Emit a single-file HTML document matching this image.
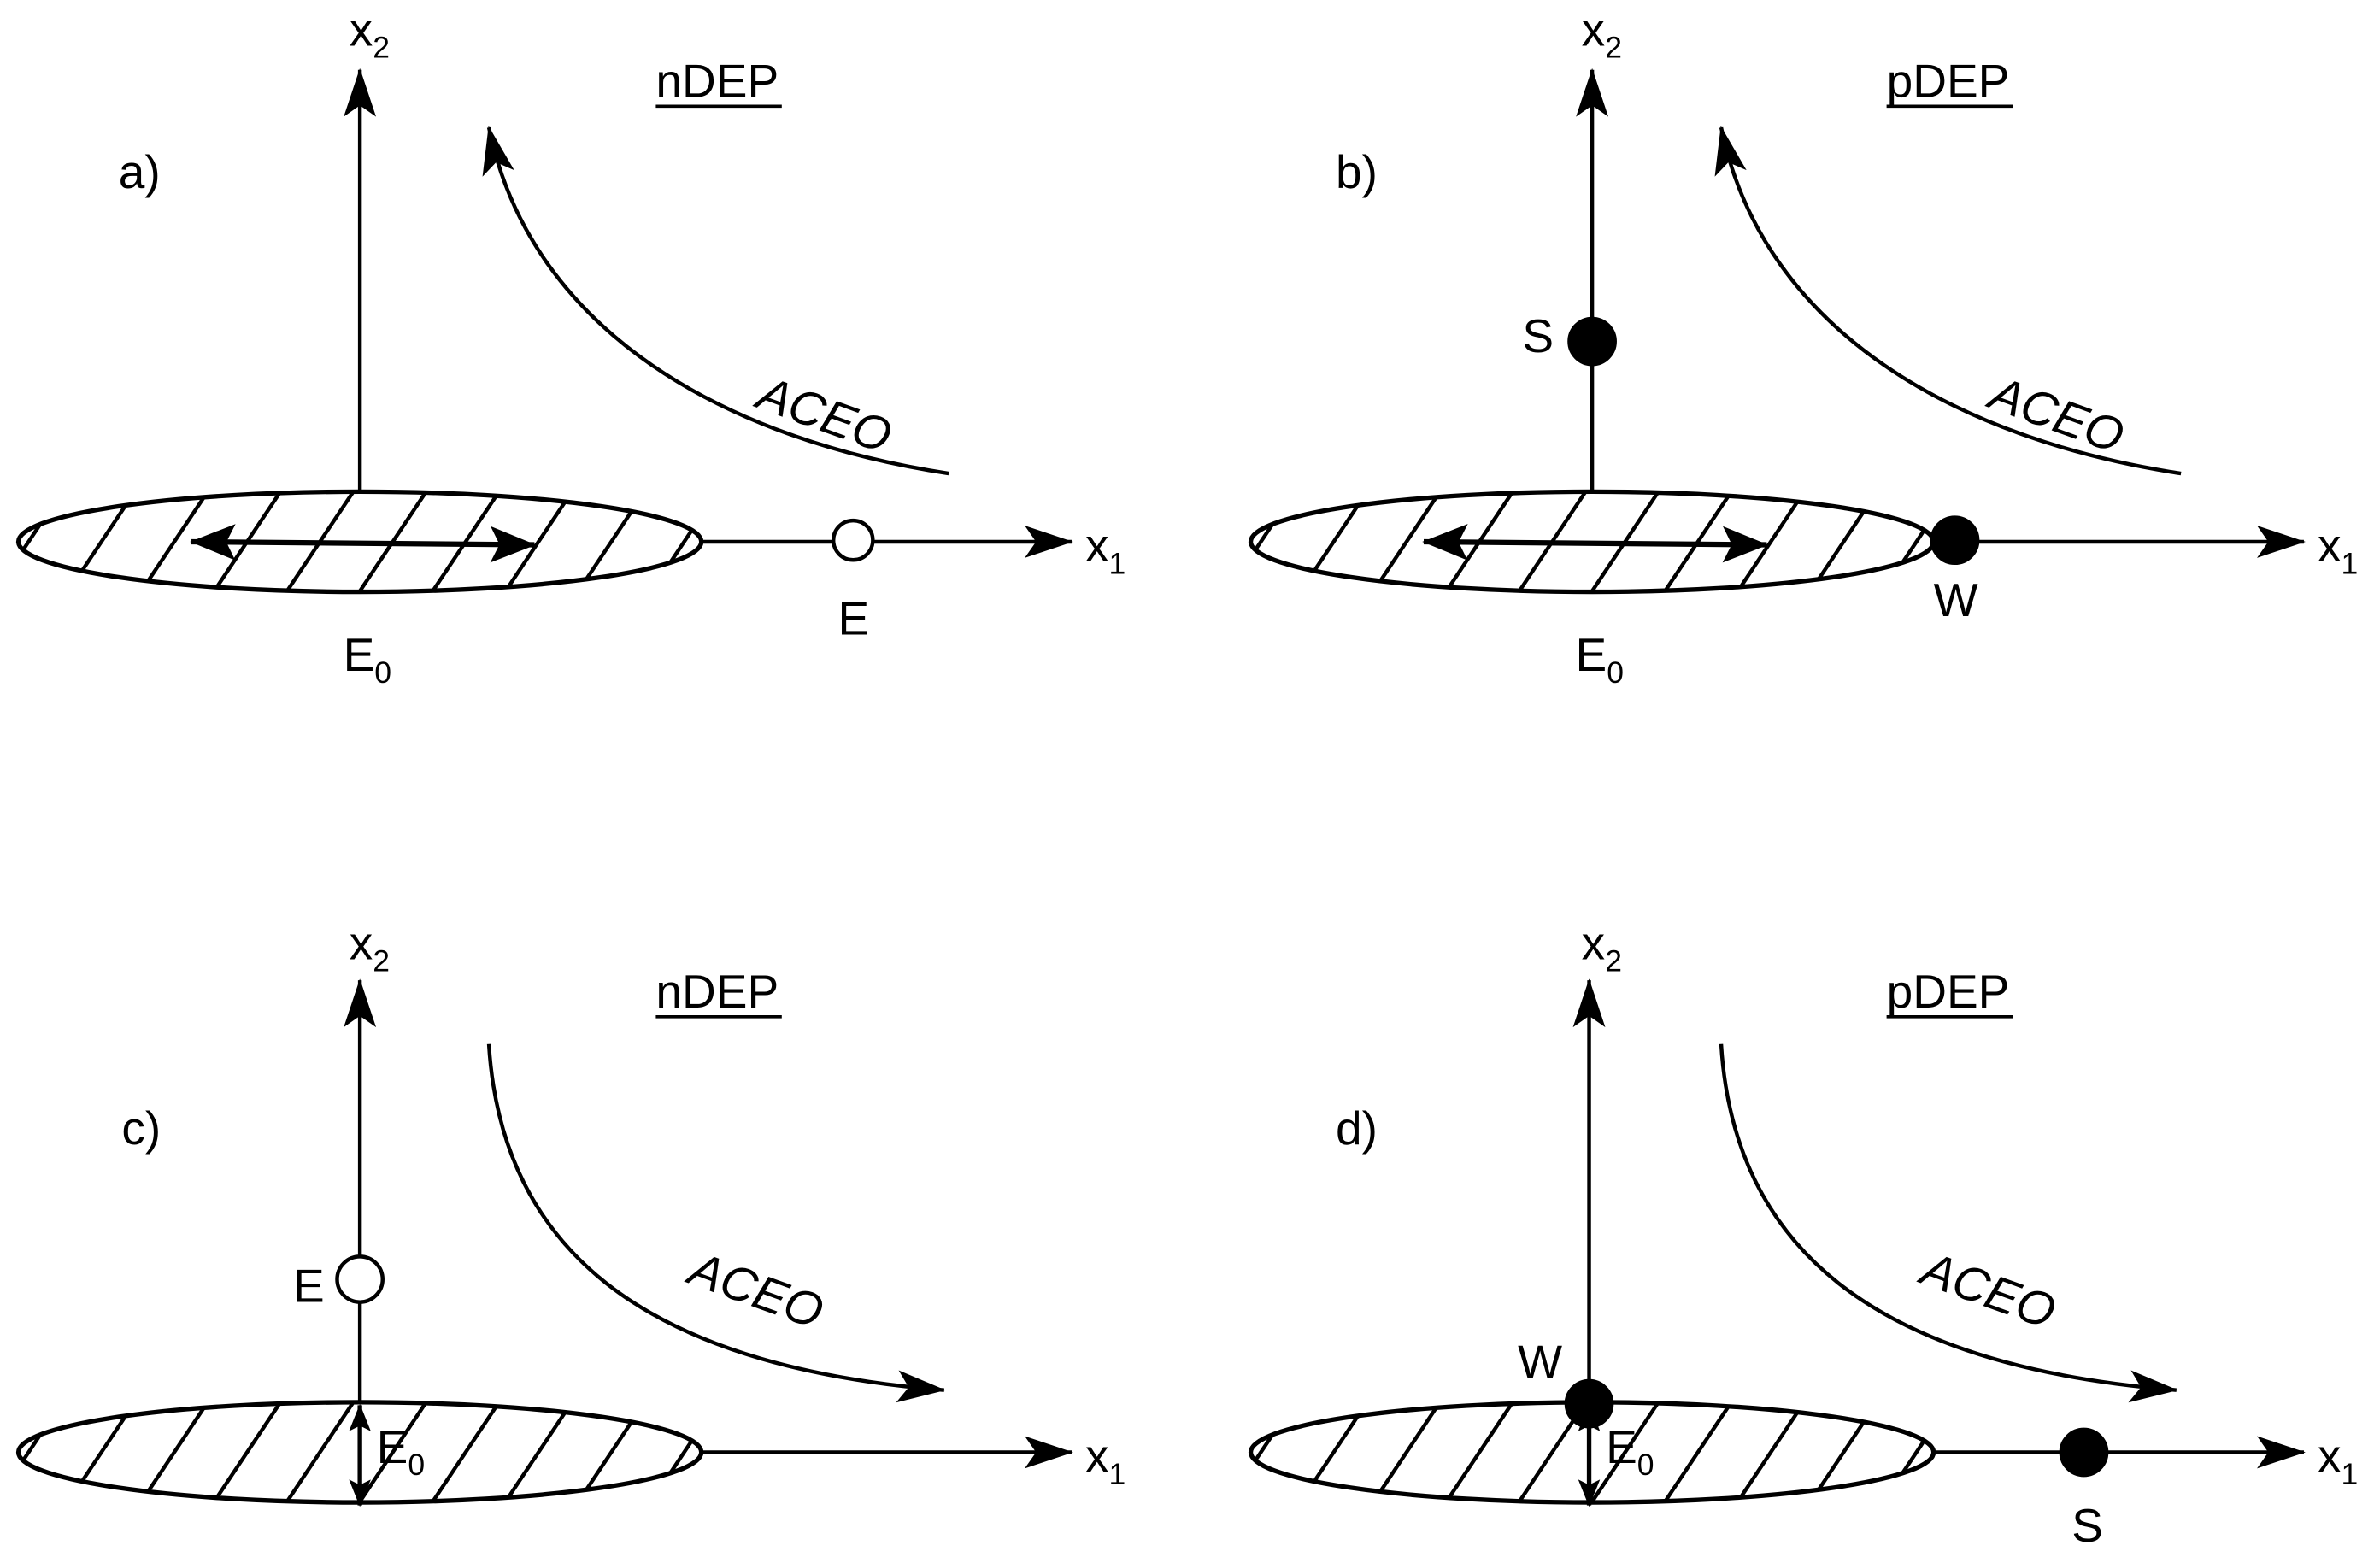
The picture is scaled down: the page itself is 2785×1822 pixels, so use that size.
<!DOCTYPE html>
<html><head><style>html,body{margin:0;padding:0;background:#fff}svg{display:block}</style></head><body>
<svg width="2785" height="1822" viewBox="0 0 1568 1026" xmlns="http://www.w3.org/2000/svg" font-family="Liberation Sans, DejaVu Sans, sans-serif" font-size="31">
<defs>
<marker id="big" viewBox="0 0 30 20" refX="29" refY="10" markerWidth="32" markerHeight="22" orient="auto-start-reverse" markerUnits="userSpaceOnUse"><path d="M0,0 L30,10 L0,20 L7,10 Z" fill="#000"/></marker>
<marker id="dbl" viewBox="0 0 30 24" refX="29" refY="12" markerWidth="30" markerHeight="26" orient="auto-start-reverse" markerUnits="userSpaceOnUse"><path d="M0,0 L30,12 L0,24 L6,12 Z" fill="#000"/></marker>
<marker id="sm" viewBox="0 0 20 16" refX="19" refY="8" markerWidth="18" markerHeight="15" orient="auto-start-reverse" markerUnits="userSpaceOnUse"><path d="M0,0 L20,8 L0,16 L4,8 Z" fill="#000"/></marker>
<clipPath id="ell"><ellipse cx="237" cy="357" rx="225" ry="33"/></clipPath>
<g id="hatch" clip-path="url(#ell)" stroke="#000" stroke-width="2.5">
<path d="M-10,400 L50,310 M38,400 L98,310 M86,400 L146,310 M134,400 L194,310 M182,400 L242,310 M230,400 L290,310 M278,400 L338,310 M326,400 L386,310 M374,400 L434,310 M422,400 L482,310"/>
</g>
<g id="ellg"><use href="#hatch"/><ellipse cx="237" cy="357" rx="225" ry="33" fill="none" stroke="#000" stroke-width="3"/></g>
</defs>
<g stroke="#000" stroke-width="2.5" fill="none">
<use href="#ellg"/>
<line x1="237" y1="324" x2="237" y2="46" marker-end="url(#big)"/>
<line x1="462" y1="357" x2="706" y2="357" marker-end="url(#big)"/>
<line x1="126" y1="357" x2="352" y2="359" marker-start="url(#dbl)" marker-end="url(#dbl)" stroke-width="3.5"/>
<circle cx="562" cy="356" r="13" fill="#fff"/>
<path d="M625,312 C480,290 350,220 322,84" marker-end="url(#big)"/>
<g transform="translate(812,0)">
<use href="#ellg"/>
<line x1="237" y1="324" x2="237" y2="46" marker-end="url(#big)"/>
<line x1="462" y1="357" x2="706" y2="357" marker-end="url(#big)"/>
<line x1="126" y1="357" x2="352" y2="359" marker-start="url(#dbl)" marker-end="url(#dbl)" stroke-width="3.5"/>
<path d="M625,312 C480,290 350,220 322,84" marker-end="url(#big)"/>
</g>
<circle cx="1049" cy="225" r="15" fill="#000"/>
<circle cx="1288" cy="356" r="15" fill="#000"/>
<g transform="translate(0,600)">
<use href="#ellg"/>
<line x1="237" y1="324" x2="237" y2="46" marker-end="url(#big)"/>
<line x1="462" y1="357" x2="706" y2="357" marker-end="url(#big)"/>
<line x1="237" y1="326" x2="237" y2="392" marker-start="url(#sm)" marker-end="url(#sm)" stroke-width="3"/>
<path d="M322,88 C330,220 420,300 622,316" marker-end="url(#big)"/>
</g>
<circle cx="237" cy="843" r="15" fill="#fff"/>
<g transform="translate(812,600)">
<use href="#ellg"/>
<line x1="235" y1="324" x2="235" y2="46" marker-end="url(#big)"/>
<line x1="462" y1="357" x2="706" y2="357" marker-end="url(#big)"/>
<line x1="235" y1="326" x2="235" y2="392" marker-start="url(#sm)" marker-end="url(#sm)" stroke-width="3"/>
<path d="M322,88 C330,220 420,300 622,316" marker-end="url(#big)"/>
</g>
<circle cx="1047" cy="925" r="15" fill="#000"/>
<circle cx="1373" cy="957" r="15" fill="#000"/>
</g>
<g fill="#000">
<text x="230" y="30">x<tspan font-size="20" dy="8">2</tspan></text>
<text x="78" y="124">a)</text>
<text x="432" y="64">nDEP</text><line x1="432" y1="70" x2="515" y2="70" stroke="#000" stroke-width="2"/>
<text x="715" y="370">x<tspan font-size="20" dy="8">1</tspan></text>
<text x="552" y="418">E</text>
<text x="226" y="442">E<tspan font-size="20" dy="8">0</tspan></text>
<text x="497" y="268" transform="rotate(20 497 268)" font-style="italic" font-size="32">ACEO</text>
<text x="1042" y="30">x<tspan font-size="20" dy="8">2</tspan></text>
<text x="880" y="124">b)</text>
<text x="1243" y="64">pDEP</text><line x1="1243" y1="70" x2="1326" y2="70" stroke="#000" stroke-width="2"/>
<text x="1527" y="370">x<tspan font-size="20" dy="8">1</tspan></text>
<text x="1003" y="232">S</text>
<text x="1274" y="406">W</text>
<text x="1038" y="442">E<tspan font-size="20" dy="8">0</tspan></text>
<text x="1309" y="268" transform="rotate(20 1309 268)" font-style="italic" font-size="32">ACEO</text>
<text x="230" y="632">x<tspan font-size="20" dy="8">2</tspan></text>
<text x="80" y="754">c)</text>
<text x="432" y="664">nDEP</text><line x1="432" y1="670" x2="515" y2="670" stroke="#000" stroke-width="2"/>
<text x="715" y="970">x<tspan font-size="20" dy="8">1</tspan></text>
<text x="193" y="858">E</text>
<text x="248" y="964">E<tspan font-size="20" dy="8">0</tspan></text>
<text x="452" y="845" transform="rotate(20 452 845)" font-style="italic" font-size="32">ACEO</text>
<text x="1042" y="632">x<tspan font-size="20" dy="8">2</tspan></text>
<text x="880" y="754">d)</text>
<text x="1243" y="664">pDEP</text><line x1="1243" y1="670" x2="1326" y2="670" stroke="#000" stroke-width="2"/>
<text x="1527" y="970">x<tspan font-size="20" dy="8">1</tspan></text>
<text x="1000" y="908">W</text>
<text x="1365" y="1016">S</text>
<text x="1058" y="964">E<tspan font-size="20" dy="8">0</tspan></text>
<text x="1264" y="845" transform="rotate(20 1264 845)" font-style="italic" font-size="32">ACEO</text>
</g>
</svg>
</body></html>
